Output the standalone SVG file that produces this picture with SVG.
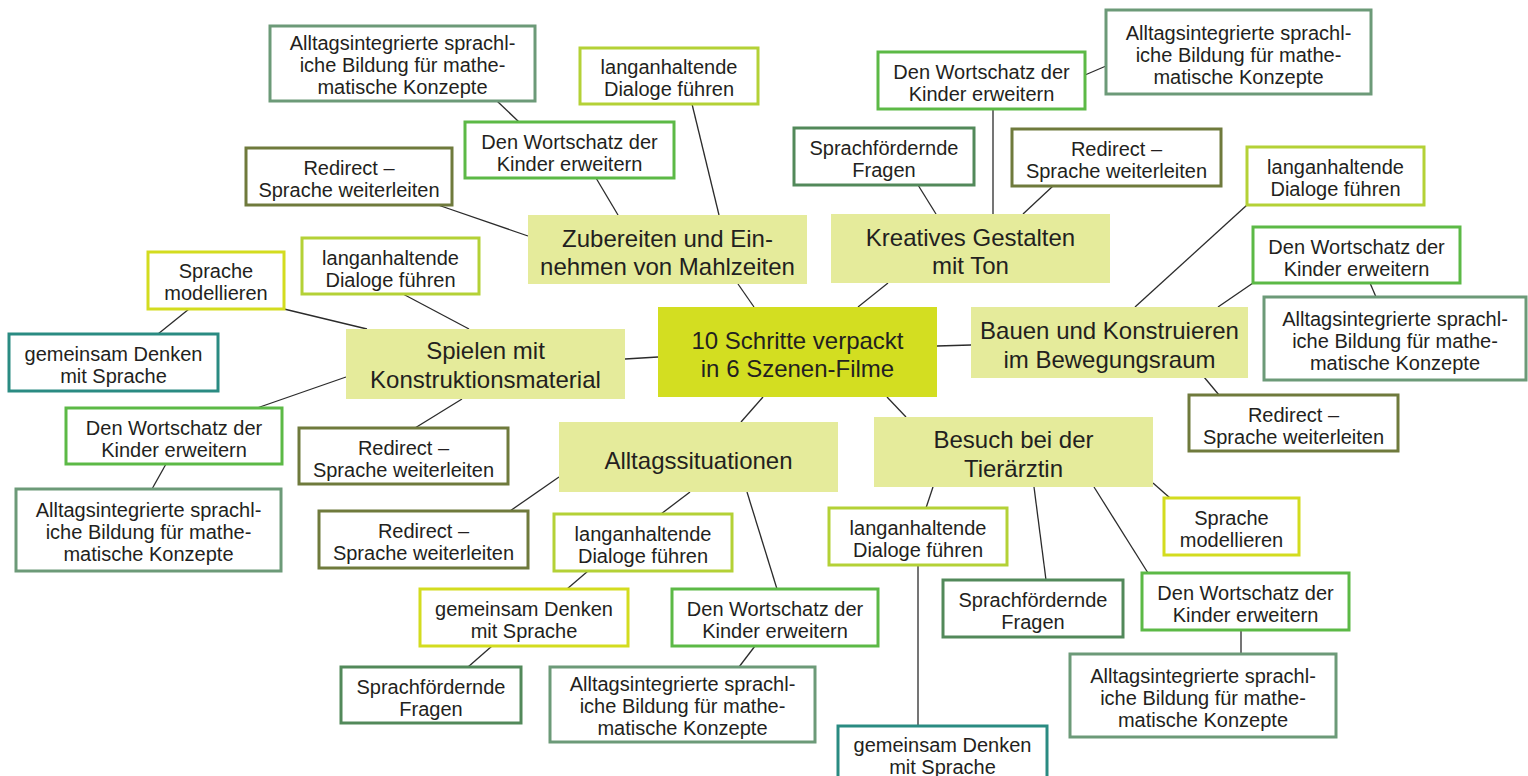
<svg xmlns="http://www.w3.org/2000/svg" width="1528" height="776" viewBox="0 0 1528 776">
<style>
text{font-family:"Liberation Sans",Arial,Helvetica,sans-serif;fill:#231f20;text-anchor:middle}
.s{font-size:20px}
.b{font-size:24px}
.box{fill:#fff;stroke-width:3}
.scene{fill:#e5eb9b}
.center{fill:#d3de21}
.ai{stroke:#6c9a78}
.dw{stroke:#5cb946}
.la{stroke:#b4d136}
.rd{stroke:#6f7a3c}
.sf{stroke:#52895a}
.sm{stroke:#d3dc1f}
.gd{stroke:#2a8b82}
#connectors line{stroke:#2b2b2b;stroke-width:1.3}
</style>
<rect width="1528" height="776" fill="#fff"/>
<g id="connectors">
<line x1="497" y1="101" x2="519" y2="122"/>
<line x1="438" y1="205" x2="528" y2="236"/>
<line x1="596" y1="178" x2="618" y2="215"/>
<line x1="692" y1="104" x2="719" y2="215"/>
<line x1="738" y1="284" x2="754" y2="307"/>
<line x1="918" y1="185" x2="936" y2="214"/>
<line x1="993" y1="109" x2="993" y2="214"/>
<line x1="1085" y1="75" x2="1106" y2="66"/>
<line x1="1053" y1="186" x2="1023" y2="214"/>
<line x1="888" y1="283" x2="858" y2="307"/>
<line x1="1247" y1="205" x2="1135" y2="307"/>
<line x1="1253" y1="283" x2="1218" y2="307"/>
<line x1="1370" y1="283" x2="1376" y2="297"/>
<line x1="1204" y1="377" x2="1219" y2="395"/>
<line x1="937" y1="346" x2="971" y2="345"/>
<line x1="284" y1="309" x2="367" y2="329"/>
<line x1="403" y1="294" x2="469" y2="329"/>
<line x1="189" y1="309" x2="158" y2="334"/>
<line x1="346" y1="377" x2="257" y2="408"/>
<line x1="166" y1="464" x2="152" y2="489"/>
<line x1="462" y1="399" x2="415" y2="428"/>
<line x1="625" y1="359" x2="658" y2="357"/>
<line x1="763" y1="397" x2="741" y2="422"/>
<line x1="559" y1="477" x2="510" y2="511"/>
<line x1="690" y1="492" x2="661" y2="514"/>
<line x1="747" y1="492" x2="777" y2="589"/>
<line x1="588" y1="571" x2="567" y2="589"/>
<line x1="492" y1="646" x2="468" y2="667"/>
<line x1="755" y1="646" x2="739" y2="667"/>
<line x1="887" y1="397" x2="906" y2="417"/>
<line x1="933" y1="487" x2="926" y2="508"/>
<line x1="1034" y1="487" x2="1046" y2="580"/>
<line x1="1094" y1="487" x2="1148" y2="573"/>
<line x1="1153" y1="483" x2="1170" y2="498"/>
<line x1="918" y1="565" x2="918" y2="726"/>
<line x1="1241" y1="630" x2="1241" y2="654"/>
</g>

<g id="center">
<rect class="center" x="658" y="307" width="279" height="90"/>
<text class="b" x="797.5" y="349">10 Schritte verpackt</text>
<text class="b" x="797.5" y="377">in 6 Szenen-Filme</text>
</g>

<g id="scene-zubereiten">
<rect class="scene" x="528" y="215" width="279" height="69"/>
<text class="b" x="667.5" y="246.5">Zubereiten und Ein-</text>
<text class="b" x="667.5" y="274.5">nehmen von Mahlzeiten</text>
</g>
<g id="scene-kreatives">
<rect class="scene" x="831" y="214" width="279" height="69"/>
<text class="b" x="970.5" y="246">Kreatives Gestalten</text>
<text class="b" x="970.5" y="274">mit Ton</text>
</g>
<g id="scene-bauen">
<rect class="scene" x="971" y="307" width="277" height="71"/>
<text class="b" x="1109.5" y="339">Bauen und Konstruieren</text>
<text class="b" x="1109.5" y="368">im Bewegungsraum</text>
</g>
<g id="scene-spielen">
<rect class="scene" x="346" y="329" width="279" height="70"/>
<text class="b" x="485.5" y="359">Spielen mit</text>
<text class="b" x="485.5" y="388">Konstruktionsmaterial</text>
</g>
<g id="scene-alltag">
<rect class="scene" x="559" y="422" width="279" height="70"/>
<text class="b" x="698.5" y="469">Alltagssituationen</text>
</g>
<g id="scene-besuch">
<rect class="scene" x="874" y="417" width="279" height="70"/>
<text class="b" x="1013.5" y="448">Besuch bei der</text>
<text class="b" x="1013.5" y="477">Tierärztin</text>
</g>

<!-- Zubereiten -->
<g id="z-ai">
<rect class="box ai" x="270" y="26" width="265" height="75"/>
<text class="s" x="402.5" y="50">Alltagsintegrierte sprachl-</text>
<text class="s" x="402.5" y="72">iche Bildung für mathe-</text>
<text class="s" x="402.5" y="94">matische Konzepte</text>
</g>
<g id="z-rd">
<rect class="box rd" x="246" y="148" width="206" height="57"/>
<text class="s" x="349" y="175">Redirect –</text>
<text class="s" x="349" y="197">Sprache weiterleiten</text>
</g>
<g id="z-dw">
<rect class="box dw" x="465" y="122" width="209" height="56"/>
<text class="s" x="569.5" y="148.5">Den Wortschatz der</text>
<text class="s" x="569.5" y="170.5">Kinder erweitern</text>
</g>
<g id="z-la">
<rect class="box la" x="580" y="48" width="178" height="56"/>
<text class="s" x="669" y="74">langanhaltende</text>
<text class="s" x="669" y="96">Dialoge führen</text>
</g>

<!-- Kreatives -->
<g id="k-sf">
<rect class="box sf" x="794" y="128" width="180" height="57"/>
<text class="s" x="884" y="155">Sprachfördernde</text>
<text class="s" x="884" y="177">Fragen</text>
</g>
<g id="k-dw">
<rect class="box dw" x="878" y="52" width="207" height="57"/>
<text class="s" x="981.5" y="78.5">Den Wortschatz der</text>
<text class="s" x="981.5" y="100.5">Kinder erweitern</text>
</g>
<g id="k-ai">
<rect class="box ai" x="1106" y="10" width="265" height="84"/>
<text class="s" x="1238.5" y="40">Alltagsintegrierte sprachl-</text>
<text class="s" x="1238.5" y="62">iche Bildung für mathe-</text>
<text class="s" x="1238.5" y="84">matische Konzepte</text>
</g>
<g id="k-rd">
<rect class="box rd" x="1012" y="129" width="209" height="57"/>
<text class="s" x="1116.5" y="156">Redirect –</text>
<text class="s" x="1116.5" y="178">Sprache weiterleiten</text>
</g>

<!-- Bauen -->
<g id="b-la">
<rect class="box la" x="1247" y="147" width="177" height="58"/>
<text class="s" x="1335.5" y="174">langanhaltende</text>
<text class="s" x="1335.5" y="196">Dialoge führen</text>
</g>
<g id="b-dw">
<rect class="box dw" x="1253" y="227" width="207" height="56"/>
<text class="s" x="1356.5" y="253.5">Den Wortschatz der</text>
<text class="s" x="1356.5" y="275.5">Kinder erweitern</text>
</g>
<g id="b-ai">
<rect class="box ai" x="1264" y="297" width="262" height="83"/>
<text class="s" x="1395" y="326">Alltagsintegrierte sprachl-</text>
<text class="s" x="1395" y="348">iche Bildung für mathe-</text>
<text class="s" x="1395" y="370">matische Konzepte</text>
</g>
<g id="b-rd">
<rect class="box rd" x="1189" y="395" width="209" height="56"/>
<text class="s" x="1293.5" y="421.5">Redirect –</text>
<text class="s" x="1293.5" y="443.5">Sprache weiterleiten</text>
</g>

<!-- Spielen -->
<g id="s-sm">
<rect class="box sm" x="148" y="252" width="136" height="57"/>
<text class="s" x="216" y="278">Sprache</text>
<text class="s" x="216" y="300">modellieren</text>
</g>
<g id="s-la">
<rect class="box la" x="302" y="238" width="177" height="56"/>
<text class="s" x="390.5" y="264.5">langanhaltende</text>
<text class="s" x="390.5" y="286.5">Dialoge führen</text>
</g>
<g id="s-gd">
<rect class="box gd" x="9" y="334" width="209" height="57"/>
<text class="s" x="113.5" y="361">gemeinsam Denken</text>
<text class="s" x="113.5" y="383">mit Sprache</text>
</g>
<g id="s-dw">
<rect class="box dw" x="66" y="408" width="216" height="56"/>
<text class="s" x="174" y="434.5">Den Wortschatz der</text>
<text class="s" x="174" y="456.5">Kinder erweitern</text>
</g>
<g id="s-ai">
<rect class="box ai" x="16" y="489" width="265" height="82"/>
<text class="s" x="148.5" y="517">Alltagsintegrierte sprachl-</text>
<text class="s" x="148.5" y="539">iche Bildung für mathe-</text>
<text class="s" x="148.5" y="561">matische Konzepte</text>
</g>
<g id="s-rd">
<rect class="box rd" x="299" y="428" width="209" height="56"/>
<text class="s" x="403.5" y="454.5">Redirect –</text>
<text class="s" x="403.5" y="476.5">Sprache weiterleiten</text>
</g>

<!-- Alltagssituationen -->
<g id="a-rd">
<rect class="box rd" x="319" y="511" width="209" height="57"/>
<text class="s" x="423.5" y="538">Redirect –</text>
<text class="s" x="423.5" y="560">Sprache weiterleiten</text>
</g>
<g id="a-la">
<rect class="box la" x="554" y="514" width="178" height="57"/>
<text class="s" x="643" y="541">langanhaltende</text>
<text class="s" x="643" y="563">Dialoge führen</text>
</g>
<g id="a-gd">
<rect class="box sm" x="420" y="589" width="208" height="57"/>
<text class="s" x="524" y="616">gemeinsam Denken</text>
<text class="s" x="524" y="638">mit Sprache</text>
</g>
<g id="a-dw">
<rect class="box dw" x="672" y="589" width="206" height="57"/>
<text class="s" x="775" y="616">Den Wortschatz der</text>
<text class="s" x="775" y="638">Kinder erweitern</text>
</g>
<g id="a-sf">
<rect class="box sf" x="341" y="667" width="180" height="56"/>
<text class="s" x="431" y="693.5">Sprachfördernde</text>
<text class="s" x="431" y="715.5">Fragen</text>
</g>
<g id="a-ai">
<rect class="box ai" x="550" y="667" width="265" height="75"/>
<text class="s" x="682.5" y="691">Alltagsintegrierte sprachl-</text>
<text class="s" x="682.5" y="713">iche Bildung für mathe-</text>
<text class="s" x="682.5" y="735">matische Konzepte</text>
</g>

<!-- Besuch -->
<g id="t-la">
<rect class="box la" x="829" y="508" width="178" height="57"/>
<text class="s" x="918" y="535">langanhaltende</text>
<text class="s" x="918" y="557">Dialoge führen</text>
</g>
<g id="t-sf">
<rect class="box sf" x="943" y="580" width="180" height="57"/>
<text class="s" x="1033" y="607">Sprachfördernde</text>
<text class="s" x="1033" y="629">Fragen</text>
</g>
<g id="t-dw">
<rect class="box dw" x="1142" y="573" width="207" height="57"/>
<text class="s" x="1245.5" y="600">Den Wortschatz der</text>
<text class="s" x="1245.5" y="622">Kinder erweitern</text>
</g>
<g id="t-sm">
<rect class="box sm" x="1164" y="498" width="135" height="57"/>
<text class="s" x="1231.5" y="525">Sprache</text>
<text class="s" x="1231.5" y="547">modellieren</text>
</g>
<g id="t-ai">
<rect class="box ai" x="1070" y="654" width="266" height="83"/>
<text class="s" x="1203" y="683">Alltagsintegrierte sprachl-</text>
<text class="s" x="1203" y="705">iche Bildung für mathe-</text>
<text class="s" x="1203" y="727">matische Konzepte</text>
</g>
<g id="t-gd">
<rect class="box gd" x="838" y="726" width="209" height="60"/>
<text class="s" x="942.5" y="752">gemeinsam Denken</text>
<text class="s" x="942.5" y="774">mit Sprache</text>
</g>
</svg>
